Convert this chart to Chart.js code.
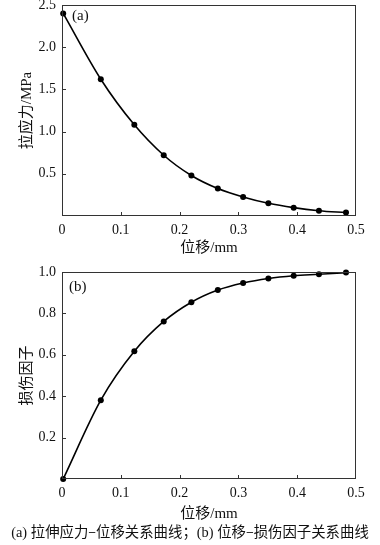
<!DOCTYPE html>
<html>
<head>
<meta charset="utf-8">
<script src="https://cdn.jsdelivr.net/npm/chart.js@4/dist/chart.umd.min.js"></script>
<style>
  html, body { margin: 0; padding: 0; background: #fff; width: 380px; height: 545px; overflow: hidden; }
  .wrap { position: absolute; left: 0; width: 380px; }
  #c1wrap { top: 0; height: 257px; }
  #c2wrap { top: 255px; height: 268px; }
  #caption { position: absolute; left: 0; width: 380px; top: 520px; text-align: center;
    font-family: 'Liberation Serif', 'Noto Sans CJK SC', serif; font-size: 14.4px; color: #111; white-space: nowrap; }
</style>
</head>
<body>
<div class="wrap" id="c1wrap"><canvas id="c1" width="380" height="257"></canvas></div>
<div class="wrap" id="c2wrap"><canvas id="c2" width="380" height="268"></canvas></div>
<div id="caption">(a) <span style="font-family:'Noto Sans CJK SC'">拉伸应力–位移关系曲线；</span>(b) <span style="font-family:'Noto Sans CJK SC'">位移–损伤因子关系曲线</span></div>
<script>
// ---- data ----
const displacement   = [0.002, 0.066, 0.123, 0.173, 0.220, 0.265, 0.308, 0.351, 0.394, 0.437, 0.483];
const tensileStress  = [2.40, 1.62, 1.08, 0.72, 0.48, 0.325, 0.225, 0.150, 0.099, 0.063, 0.040];
const damageFactor   = [0.000, 0.381, 0.617, 0.761, 0.854, 0.913, 0.947, 0.969, 0.982, 0.989, 0.997];
const xTickValues      = [0, 0.1, 0.2, 0.3, 0.4, 0.5];
const stressTickValues = [0.5, 1.0, 1.5, 2.0, 2.5];
const damageTickValues = [0.2, 0.4, 0.6, 0.8, 1.0];
const xTitle = '位移/mm';
const stressTitle = '拉应力/MPa';
const damageTitle = '损伤因子';

const SERIF = "'Liberation Serif', 'Noto Sans CJK SC', serif";

const framePlugin = {
  id: 'frame',
  afterDraw(chart, args, opts) {
    const {ctx, chartArea: a, scales} = chart;
    ctx.save();
    ctx.strokeStyle = '#333';
    ctx.lineWidth = 1;
    ctx.strokeRect(a.left + 0.5, a.top + 0.5, a.right - a.left - 1, a.bottom - a.top - 1);
    // inward ticks
    ctx.beginPath();
    scales.x.ticks.forEach(t => {
      if (t.value <= scales.x.min || t.value >= scales.x.max) return;
      const px = Math.round(scales.x.getPixelForValue(t.value)) + 0.5;
      ctx.moveTo(px, a.bottom); ctx.lineTo(px, a.bottom - 4);
    });
    scales.y.ticks.forEach(t => {
      if (t.value <= scales.y.min || t.value >= scales.y.max) return;
      const py = Math.round(scales.y.getPixelForValue(t.value)) + 0.5;
      ctx.moveTo(a.left, py); ctx.lineTo(a.left + 4, py);
    });
    ctx.stroke();
    // panel label
    ctx.fillStyle = '#111';
    ctx.font = '15px ' + SERIF;
    ctx.textBaseline = 'middle';
    ctx.textAlign = 'left';
    ctx.fillText(opts.label, a.left + opts.dx, a.top + opts.dy);
    ctx.restore();
  }
};

function makeChart(id, ys, yMax, yStep, yTicks, yTitleText, label, geo) {
  const pts = displacement.map((x, i) => ({x, y: ys[i]}));
  return new Chart(document.getElementById(id), {
    type: 'line',
    data: { datasets: [{
      data: pts,
      borderColor: '#000',
      backgroundColor: '#000',
      borderWidth: 1.6,
      pointRadius: 3,
      pointBackgroundColor: '#000',
      pointBorderWidth: 0,
      cubicInterpolationMode: 'monotone',
      fill: false,
      clip: false
    }]},
    plugins: [framePlugin],
    options: {
      responsive: false,
      animation: false,
      events: [],
      layout: { padding: { top: geo.top, right: geo.right, left: 0, bottom: 0 } },
      plugins: {
        legend: { display: false },
        tooltip: { enabled: false },
        frame: { label, dx: geo.ldx, dy: geo.ldy }
      },
      scales: {
        x: {
          type: 'linear', min: 0, max: 0.5,
          afterBuildTicks: s => { s.ticks = xTickValues.map(v => ({value: v})); },
          afterFit: s => { s.height = geo.xh; s.paddingLeft = 0; s.paddingRight = 0; },
          grid: { display: false, drawTicks: false },
          border: { display: false },
          ticks: {
            padding: geo.xpad, color: '#111', maxRotation: 0, autoSkip: false,
            font: { family: SERIF, size: 14 },
            callback: v => v === 0 ? '0' : v.toFixed(1)
          },
          title: { display: true, text: xTitle, color: '#111', font: { family: SERIF, size: 15 }, padding: { top: geo.xtpad, bottom: 0 } }
        },
        y: {
          type: 'linear', min: 0, max: yMax,
          afterBuildTicks: s => { s.ticks = yTicks.map(v => ({value: v})); },
          afterFit: s => { s.width = 62; s.paddingTop = 0; s.paddingBottom = 0; },
          grid: { display: false, drawTicks: false },
          border: { display: false },
          ticks: {
            padding: 6, color: '#111',
            font: { family: SERIF, size: 14 },
            callback: v => v.toFixed(1)
          },
          title: { display: true, text: yTitleText, color: '#111', font: { family: SERIF, size: 15 }, padding: { top: 18, bottom: 2 } }
        }
      }
    }
  });
}

makeChart('c1', tensileStress, 2.5, 0.5, stressTickValues, stressTitle, '(a)',
  { top: 5, right: 24, xh: 41, xpad: 6, xtpad: 5, ldx: 10, ldy: 11 });
makeChart('c2', damageFactor, 1.0, 0.2, damageTickValues, damageTitle, '(b)',
  { top: 17, right: 24, xh: 44, xpad: 6, xtpad: 5, ldx: 7, ldy: 15 });
</script>
</body>
</html>
